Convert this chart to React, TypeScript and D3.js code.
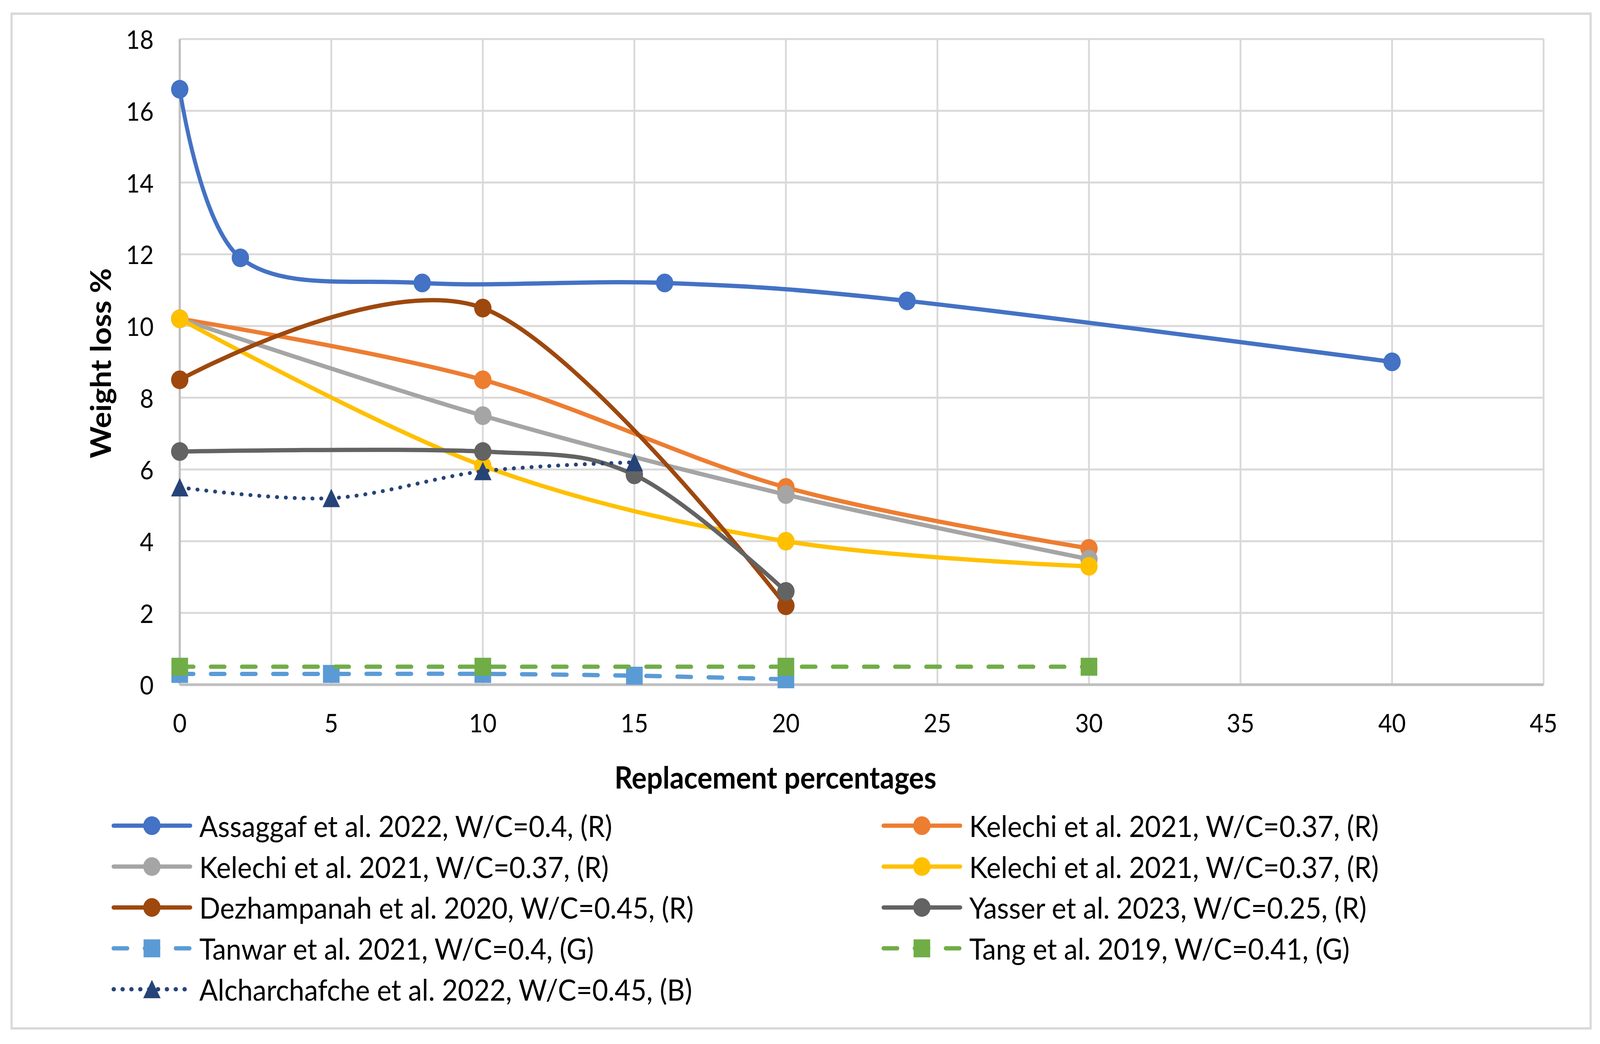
import * as d3 from "d3";

// ── Chart data ──
const xTicks = [0, 5, 10, 15, 20, 25, 30, 35, 40, 45];
const yTicks = [0, 2, 4, 6, 8, 10, 12, 14, 16, 18];

const seriesNames = [
  "Assaggaf et al. 2022, W/C=0.4, (R)",
  "Kelechi et al. 2021, W/C=0.37, (R)",
  "Kelechi et al. 2021, W/C=0.37, (R)",
  "Kelechi et al. 2021, W/C=0.37, (R)",
  "Dezhampanah et al. 2020, W/C=0.45, (R)",
  "Yasser et al. 2023, W/C=0.25, (R)",
  "Tanwar et al. 2021, W/C=0.4, (G)",
  "Tang et al. 2019, W/C=0.41, (G)",
  "Alcharchafche et al. 2022, W/C=0.45, (B)",
];

const assaggafX = [0, 2, 8, 16, 24, 40];
const assaggafY = [16.6, 11.9, 11.2, 11.2, 10.7, 9.0];
const kelechiX = [0, 10, 20, 30];
const kelechiOrangeY = [10.2, 8.5, 5.5, 3.8];
const kelechiGrayY = [10.2, 7.5, 5.3, 3.5];
const kelechiYellowY = [10.2, 6.1, 4.0, 3.3];
const dezhampanahX = [0, 10, 20];
const dezhampanahY = [8.5, 10.5, 2.2];
const yasserX = [0, 10, 15, 20];
const yasserY = [6.5, 6.5, 5.85, 2.6];
const tanwarX = [0, 5, 10, 15, 20];
const tanwarY = [0.3, 0.3, 0.3, 0.25, 0.15];
const tangX = [0, 10, 20, 30];
const tangY = [0.5, 0.5, 0.5, 0.5];
const alcharX = [0, 5, 10, 15];
const alcharY = [5.5, 5.2, 5.95, 6.2];

const seriesX = [assaggafX, kelechiX, kelechiX, kelechiX, dezhampanahX, yasserX, tanwarX, tangX, alcharX];
const seriesY = [assaggafY, kelechiOrangeY, kelechiGrayY, kelechiYellowY, dezhampanahY, yasserY, tanwarY, tangY, alcharY];

// ── Styles ──
const colors = ["#4472C4", "#ED7D31", "#A5A5A5", "#FFC000", "#9E480E", "#636363", "#5B9BD5", "#70AD47", "#264478"];
const dashes = ["", "", "", "", "", "", "38 48", "38 48", "1 23.5"];
const markers = ["circle", "circle", "circle", "circle", "circle", "circle", "square", "square", "triangle"];

const W = 4424;
const H = 2673;
const FONT = "Lato, 'Open Sans', sans-serif";

const x = d3.scaleLinear().domain([0, 45]).range([497, 4268]);
const y = d3.scaleLinear().domain([0, 18]).range([1753, 100]);

// Excel-style smoothed line
const lineGen = d3
  .line<[number, number]>()
  .x((d) => x(d[0]))
  .y((d) => y(d[1]))
  .curve(d3.curveCatmullRom.alpha(0));

function Marker({ kind, cx, cy, color }: { kind: string; cx: number; cy: number; color: string }) {
  if (kind === "square")
    return <rect x={cx - 23} y={cy - 23} width={46} height={46} fill={color} />;
  if (kind === "triangle")
    return <path d={`M${cx},${cy - 24}L${cx + 24},${cy + 23}L${cx - 24},${cy + 23}Z`} fill={color} />;
  return <circle cx={cx} cy={cy} r={24} fill={color} />;
}

export default function App() {
  const legendRowY = (i: number) => 2114 + Math.floor(i / 2) * 104.7;
  const legendLineX = (i: number) => (i % 2 === 0 ? 309 : 2438);

  return (
    <>
      <style>{`html,body{margin:0;padding:0;overflow:hidden}`}</style>
      {/* the viewport may be narrower than 4424px, so stretch the drawing to fill it */}
      <svg
        viewBox={`0 0 ${W} ${H}`}
        width="100vw"
        height="100vh"
        preserveAspectRatio="none"
        style={{ display: "block", background: "#fff" }}
        fontFamily={FONT}
      >
        <rect x={32} y={35} width={4366} height={2598} fill="#fff" stroke="#D9D9D9" strokeWidth={6} />

        {/* grid */}
        {yTicks.filter((t) => t > 0).map((t) => (
          <line key={"gy" + t} x1={x(0)} x2={x(45)} y1={y(t)} y2={y(t)} stroke="#D9D9D9" strokeWidth={5} />
        ))}
        {xTicks.filter((t) => t > 0).map((t) => (
          <line key={"gx" + t} x1={x(t)} x2={x(t)} y1={y(0)} y2={y(18)} stroke="#D9D9D9" strokeWidth={5} />
        ))}
        <line x1={x(0)} x2={x(0)} y1={y(0)} y2={y(18)} stroke="#BFBFBF" strokeWidth={6} />
        <line x1={x(0)} x2={x(45)} y1={y(0)} y2={y(0)} stroke="#BFBFBF" strokeWidth={7} />

        {/* tick labels */}
        {yTicks.map((t) => (
          <text key={"ty" + t} x={425} y={y(t)} textAnchor="end" dominantBaseline="central" fontSize={66}>
            {t}
          </text>
        ))}
        {xTicks.map((t) => (
          <text key={"tx" + t} x={x(t)} y={1850} textAnchor="middle" dominantBaseline="central" fontSize={66}>
            {t}
          </text>
        ))}

        {/* axis titles */}
        <text x={2144} y={1989} textAnchor="middle" dominantBaseline="central" fontSize={78} fontWeight="bold">
          Replacement percentages
        </text>
        <text
          transform="translate(277,930) rotate(-90)"
          textAnchor="middle"
          dominantBaseline="central"
          fontSize={78}
          fontWeight="bold"
        >
          Weight loss %
        </text>

        {/* series */}
        {seriesNames.map((name, i) => {
          const pts = seriesX[i].map((v, j) => [v, seriesY[i][j]] as [number, number]);
          return (
            <g key={"s" + i}>
              <path
                d={lineGen(pts) ?? ""}
                fill="none"
                stroke={colors[i]}
                strokeWidth={dashes[i] === "1 23.5" ? 10 : 11}
                strokeDasharray={dashes[i] || undefined}
                strokeLinecap="round"
                strokeLinejoin="round"
              />
              {pts.map((p, j) => (
                <Marker key={j} kind={markers[i]} cx={x(p[0])} cy={y(p[1])} color={colors[i]} />
              ))}
            </g>
          );
        })}

        {/* legend, two columns */}
        {seriesNames.map((name, i) => {
          const lx = legendLineX(i);
          const ly = legendRowY(i);
          return (
            <g key={"l" + i}>
              <line
                x1={lx + 5}
                x2={lx + 217}
                y1={ly}
                y2={ly}
                stroke={colors[i]}
                strokeWidth={11}
                strokeDasharray={dashes[i] || undefined}
                strokeLinecap="round"
              />
              <Marker kind={markers[i]} cx={lx + 111} cy={ly} color={colors[i]} />
              <text x={lx + 242} y={ly} dominantBaseline="central" fontSize={76}>
                {name}
              </text>
            </g>
          );
        })}
      </svg>
    </>
  );
}
